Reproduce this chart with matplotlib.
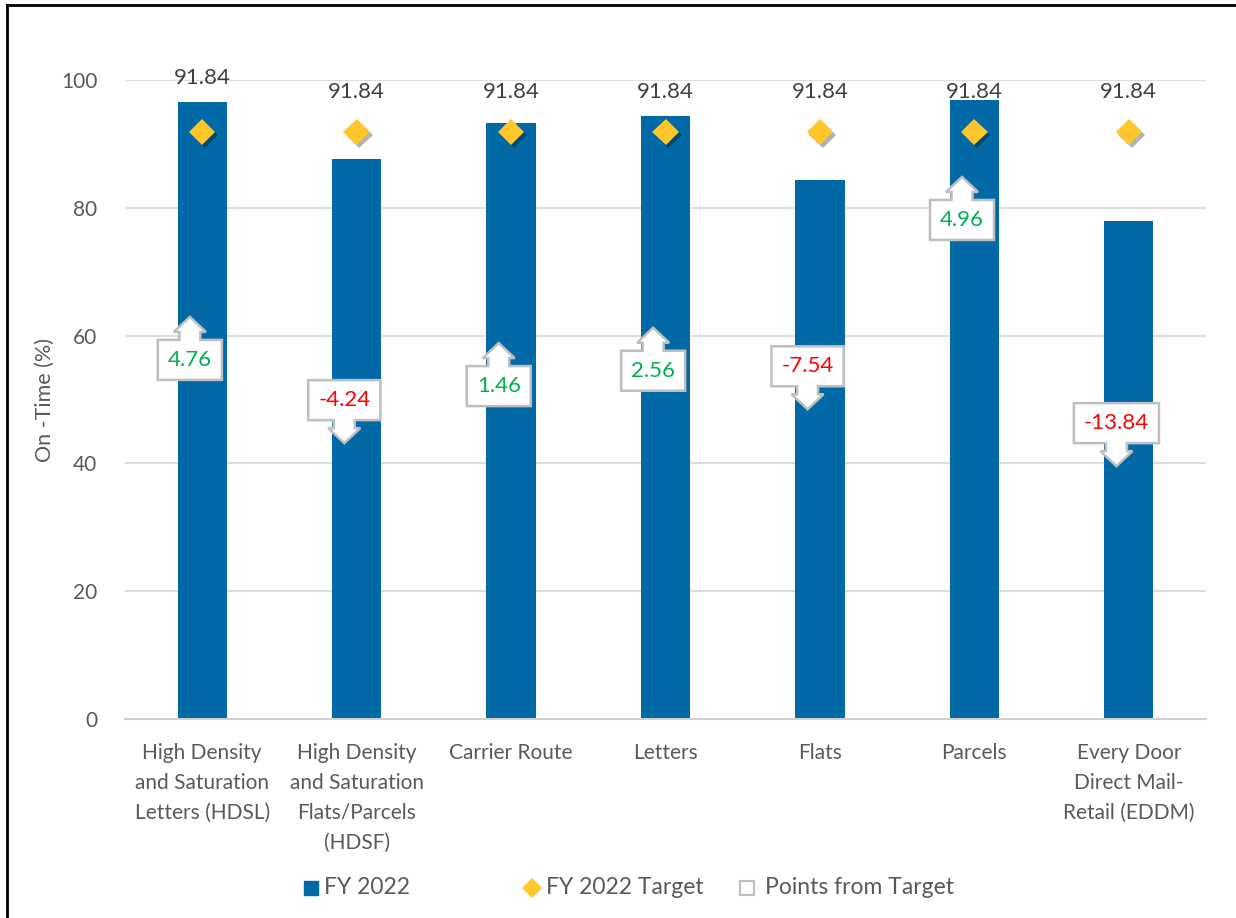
import matplotlib
matplotlib.use("Agg")
import matplotlib.pyplot as plt
import matplotlib.patheffects as pe
from matplotlib.patches import Polygon
from matplotlib.lines import Line2D
from matplotlib.transforms import Affine2D, ScaledTranslation

plt.rcParams['font.family'] = ['Lato', 'DejaVu Sans']

# ---------------- data ----------------
categories = [
    "High Density\nand Saturation\nLetters (HDSL)",
    "High Density\nand Saturation\nFlats/Parcels\n(HDSF)",
    "Carrier Route",
    "Letters",
    "Flats",
    "Parcels",
    "Every Door\nDirect Mail-\nRetail (EDDM)",
]
fy2022 = [96.60, 87.60, 93.30, 94.40, 84.30, 96.80, 78.00]
target = [91.84, 91.84, 91.84, 91.84, 91.84, 91.84, 91.84]
points_from_target = [4.76, -4.24, 1.46, 2.56, -7.54, 4.96, -13.84]
target_labels = ["91.84"] * 7
yticks = [0, 20, 40, 60, 80, 100]

# ---------------- layout (label placement) ----------------
target_label_y = [100.3, 98.1, 98.1, 98.1, 98.1, 98.1, 98.1]
callout_y = [56.2, 49.9, 52.1, 54.5, 55.2, 78.1, 46.3]

BAR = '#0069a6'
GOLD = '#ffc72c'
GREY_TXT = '#595959'
GREEN = '#00b050'
RED = '#ff0000'

fig = plt.figure(figsize=(12.36, 9.18), dpi=100)
W, H = 1236, 918
ax = fig.add_axes([125 / W, 1 - 719 / H, (1206 - 125) / W, (719 - 80) / H])

x = list(range(len(categories)))
ax.bar(x, fy2022, width=0.32, color=BAR, zorder=2)
ax.plot(x, target, linestyle='none', marker='D', markersize=13.5,
        color=GOLD, markeredgewidth=0, zorder=4,
        path_effects=[pe.SimplePatchShadow(offset=(2, -2), shadow_rgbFace='black', alpha=0.3),
                      pe.Normal()])

for xi, ty, lab in zip(x, target_label_y, target_labels):
    ax.text(xi, ty, lab, ha='center', va='center', fontsize=16, color='#404040',
            zorder=6, clip_on=False)

ax.set_xlim(-0.5, len(categories) - 0.5)
ax.set_ylim(0, 100)
ax.set_yticks(yticks)
ax.set_yticklabels([str(v) for v in yticks])
ax.set_xticks(x)
ax.set_xticklabels(categories, linespacing=1.62)
ax.tick_params(axis='y', length=0, pad=20, labelsize=15, labelcolor=GREY_TXT)
ax.tick_params(axis='x', length=0, pad=17, labelsize=15, labelcolor=GREY_TXT)
ax.grid(axis='y', color='#d9d9d9', linewidth=1.3, zorder=0)
ax.set_axisbelow(True)
for s in ['left', 'right', 'top']:
    ax.spines[s].set_visible(False)
ax.spines['bottom'].set_color('#d0d0d0')
ax.spines['bottom'].set_linewidth(1.5)
ax.set_ylabel("On -Time (%)", fontsize=15.5, color=GREY_TXT)
ax.yaxis.set_label_coords((55 - 125) / (1206 - 125), 0.5)

# ---------------- callouts ----------------
renderer = fig.canvas.get_renderer()


def callout(xc, yc, val):
    up = val >= 0
    col = GREEN if up else RED
    txt = f"{val:.2f}"
    t = ax.text(xc, yc, txt, ha='center', va='center', fontsize=16, color=col, zorder=7)
    bb = t.get_window_extent(renderer)
    hw = (bb.width + 20) / 2
    hh = 20
    nw, hdw, neck, head = 10.5, 16, 8, 15
    s = 1 if up else -1
    pts = [(-hw, -s * hh), (hw, -s * hh), (hw, s * hh), (nw, s * hh),
           (nw, s * (hh + neck)), (hdw, s * (hh + neck)), (0, s * (hh + neck + head)),
           (-hdw, s * (hh + neck)), (-nw, s * (hh + neck)), (-nw, s * hh), (-hw, s * hh)]
    trans = Affine2D() + ScaledTranslation(xc, yc, ax.transData)
    poly = Polygon(pts, closed=True, facecolor='white', edgecolor='#bfbfbf',
                   linewidth=1.8, transform=trans, zorder=6, clip_on=False,
                   joinstyle='miter')
    ax.add_patch(poly)


for xi, yc, v in zip(x, callout_y, points_from_target):
    callout(xi - 0.08, yc, v)

# ---------------- legend (manual) ----------------
ly = 1 - 888 / H
fig.add_artist(Line2D([311 / W], [ly], marker='s', markersize=10, color=BAR,
                      linestyle='none', transform=fig.transFigure))
fig.text(324 / W, ly, "FY 2022", fontsize=16.5, color=GREY_TXT, va='center', ha='left')
fig.add_artist(Line2D([532 / W], [ly], marker='D', markersize=10, color=GOLD,
                      markeredgewidth=0, linestyle='none', transform=fig.transFigure))
fig.text(546 / W, ly, "FY 2022 Target", fontsize=16.5, color=GREY_TXT, va='center', ha='left')
fig.add_artist(Line2D([747 / W], [ly], marker='s', markersize=10, markerfacecolor='white',
                      markeredgecolor='#bfbfbf', markeredgewidth=1.5, linestyle='none',
                      transform=fig.transFigure))
fig.text(765 / W, ly, "Points from Target", fontsize=16.5, color=GREY_TXT, va='center', ha='left')

# ---------------- frame lines (top & left) ----------------
fig.add_artist(Line2D([7 / W, 1.0], [1 - 5 / H, 1 - 5 / H], color='black', linewidth=2,
                      transform=fig.transFigure))
fig.add_artist(Line2D([7 / W, 7 / W], [0, 1 - 5 / H], color='black', linewidth=2,
                      transform=fig.transFigure))

fig.savefig("out.png", dpi=100, facecolor='white')
